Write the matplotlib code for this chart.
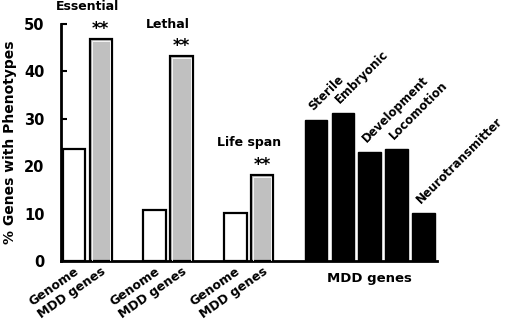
import matplotlib
matplotlib.use("Agg")
import matplotlib.pyplot as plt

plt.rcParams['font.family'] = ['DejaVu Sans']
plt.rcParams['font.weight'] = 'bold'

# Data
groups = ["Essential", "Lethal", "Life span"]
genome_vals = [23.6, 10.8, 10.1]
mdd_vals = [46.8, 43.2, 18.1]
pair_labels = ["Genome", "MDD genes"]
sig_marks = ["**", "**", "**"]

pheno_cats = ["Sterile", "Embryonic", "Development", "Locomotion", "Neurotransmitter"]
pheno_vals = [29.7, 31.2, 22.9, 23.6, 10.1]
pheno_group_label = "MDD genes"

yticks = [0, 10, 20, 30, 40, 50]
ylabel = "% Genes with Phenotypes"

fig = plt.figure(figsize=(5.10, 3.27), dpi=100)
ax = fig.add_axes([61/510, 66/327, 376/510, 237/327])

w = 0.84
gray = "#c0c0c0"
xt, xl = [], []
for i, (g, gv, mv, s) in enumerate(zip(groups, genome_vals, mdd_vals, sig_marks)):
    x0 = 3 * i
    x1 = x0 + 1
    ax.bar(x0, gv, width=w, color="white", edgecolor="black", linewidth=1.6, zorder=2)
    ax.bar(x1, mv, width=w, color=gray, edgecolor="black", linewidth=1.6, zorder=2)
    ax.bar(x1, mv - 0.45, width=w - 0.16, color="none", edgecolor="white", linewidth=0.6, zorder=3)
    ax.text(x1, mv + 0.2, s, ha="center", va="bottom", fontsize=12, fontweight="bold")
    ax.text((x0 + x1) / 2, max(gv, mv) + 6.8, g, ha="center", va="center", fontsize=9, fontweight="bold")
    xt += [x0, x1]
    xl += pair_labels

start = 9
for j, (c, v) in enumerate(zip(pheno_cats, pheno_vals)):
    x = start + j
    ax.bar(x, v, width=w, color="black", edgecolor="black", linewidth=1, zorder=2)
    ax.text(x - 0.1, v + 2.0, c, rotation=45, rotation_mode="anchor",
            ha="left", va="baseline", fontsize=8.5, fontweight="bold")

ax.set_xticks(xt)
ax.set_xticklabels(xl, rotation=35, rotation_mode="anchor", ha="right", va="top",
                   fontsize=9, fontweight="bold")
ax.tick_params(axis="x", length=0, pad=3)
ax.text(start + (len(pheno_cats) - 1) / 2, -3.6, pheno_group_label, ha="center", va="center",
        fontsize=9.5, fontweight="bold")

ax.set_xlim(-0.48, 13.5)
ax.set_ylim(0, 50)
ax.set_yticks(yticks)
ax.set_yticklabels([str(t) for t in yticks], fontsize=10.5, fontweight="bold")
ax.tick_params(axis="y", direction="in", length=4, width=1.5, pad=12)
ax.set_ylabel(ylabel, fontsize=10, fontweight="bold", labelpad=5)

for sp in ["top", "right"]:
    ax.spines[sp].set_visible(False)
ax.spines["left"].set_linewidth(2)
ax.spines["bottom"].set_linewidth(2)

fig.savefig("out.png", dpi=100)
